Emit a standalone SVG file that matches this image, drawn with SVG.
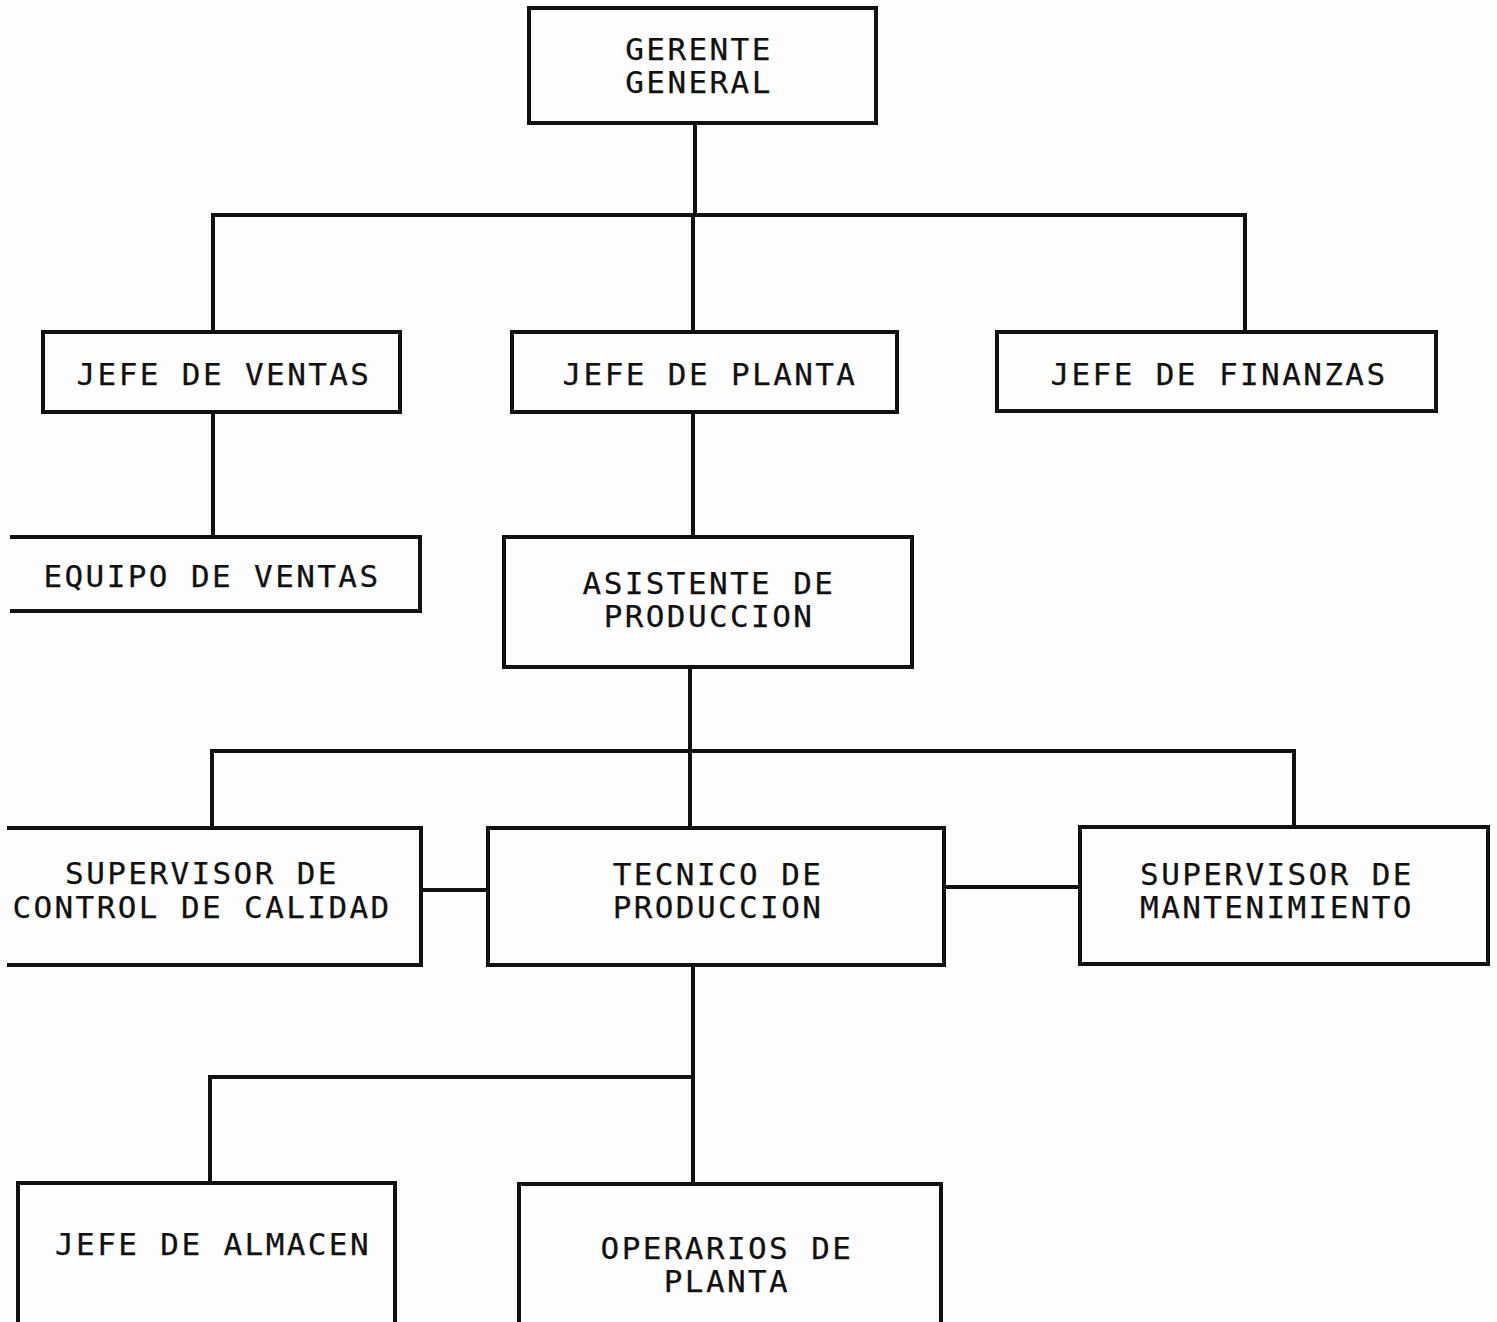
<svg xmlns="http://www.w3.org/2000/svg" width="1497" height="1322" viewBox="0 0 1497 1322">
  <style>
    .box { fill: none; stroke: #111; stroke-width: 4; stroke-linejoin: miter; }
    .wire { fill: none; stroke: #111; stroke-width: 4; stroke-linecap: square; }
    .lbl { font-family: "DejaVu Sans Mono", "Liberation Mono", monospace; font-size: 31px; letter-spacing: 2.4px; fill: #111; stroke: #111; stroke-width: 0.25; text-anchor: middle; }
  </style>
  <rect width="1497" height="1322" fill="#fdfdfd"/>

  <!-- connectors -->
  <g id="connectors">
    <path class="wire" d="M695 123 V215"/>
    <path class="wire" d="M213 332 V215 H1245 V332"/>
    <path class="wire" d="M693 215 V332"/>
    <path class="wire" d="M213 412 V537"/>
    <path class="wire" d="M693 412 V537"/>
    <path class="wire" d="M690 667 V828"/>
    <path class="wire" d="M212 828 V751 H1294 V827"/>
    <path class="wire" d="M421 890 H488"/>
    <path class="wire" d="M944 887 H1080"/>
    <path class="wire" d="M693 965 V1183"/>
    <path class="wire" d="M210 1183 V1077 H693"/>
  </g>

  <g id="gerente-general">
    <rect class="box" x="529" y="8" width="347" height="115"/>
    <text class="lbl" x="699" y="60">GERENTE</text>
    <text class="lbl" x="699" y="93">GENERAL</text>
  </g>

  <g id="jefe-ventas">
    <rect class="box" x="43" y="332" width="357" height="80"/>
    <text class="lbl" x="224" y="385">JEFE DE VENTAS</text>
  </g>

  <g id="jefe-planta">
    <rect class="box" x="512" y="332" width="385" height="80"/>
    <text class="lbl" x="710" y="385">JEFE DE PLANTA</text>
  </g>

  <g id="jefe-finanzas">
    <rect class="box" x="997" y="332" width="439" height="79"/>
    <text class="lbl" x="1219" y="385">JEFE DE FINANZAS</text>
  </g>

  <g id="equipo-ventas">
    <path class="box" d="M10 537 H420 V611 H10"/>
    <text class="lbl" x="212" y="587">EQUIPO DE VENTAS</text>
  </g>

  <g id="asistente-produccion">
    <rect class="box" x="504" y="537" width="408" height="130"/>
    <text class="lbl" x="709" y="594">ASISTENTE DE</text>
    <text class="lbl" x="709" y="627">PRODUCCION</text>
  </g>

  <g id="supervisor-calidad">
    <path class="box" d="M7 828 H421 V965 H7"/>
    <text class="lbl" x="202" y="884">SUPERVISOR DE</text>
    <text class="lbl" x="202" y="918">CONTROL DE CALIDAD</text>
  </g>

  <g id="tecnico-produccion">
    <rect class="box" x="488" y="828" width="456" height="137"/>
    <text class="lbl" x="718" y="885">TECNICO DE</text>
    <text class="lbl" x="718" y="918">PRODUCCION</text>
  </g>

  <g id="supervisor-mantenimiento">
    <rect class="box" x="1080" y="827" width="408" height="137"/>
    <text class="lbl" x="1277" y="885">SUPERVISOR DE</text>
    <text class="lbl" x="1277" y="918">MANTENIMIENTO</text>
  </g>

  <g id="jefe-almacen">
    <path class="box" d="M18 1330 V1183 H395 V1330"/>
    <text class="lbl" x="213" y="1255">JEFE DE ALMACEN</text>
  </g>

  <g id="operarios-planta">
    <path class="box" d="M519 1330 V1184 H941 V1330"/>
    <text class="lbl" x="727" y="1259">OPERARIOS DE</text>
    <text class="lbl" x="727" y="1292">PLANTA</text>
  </g>
</svg>
